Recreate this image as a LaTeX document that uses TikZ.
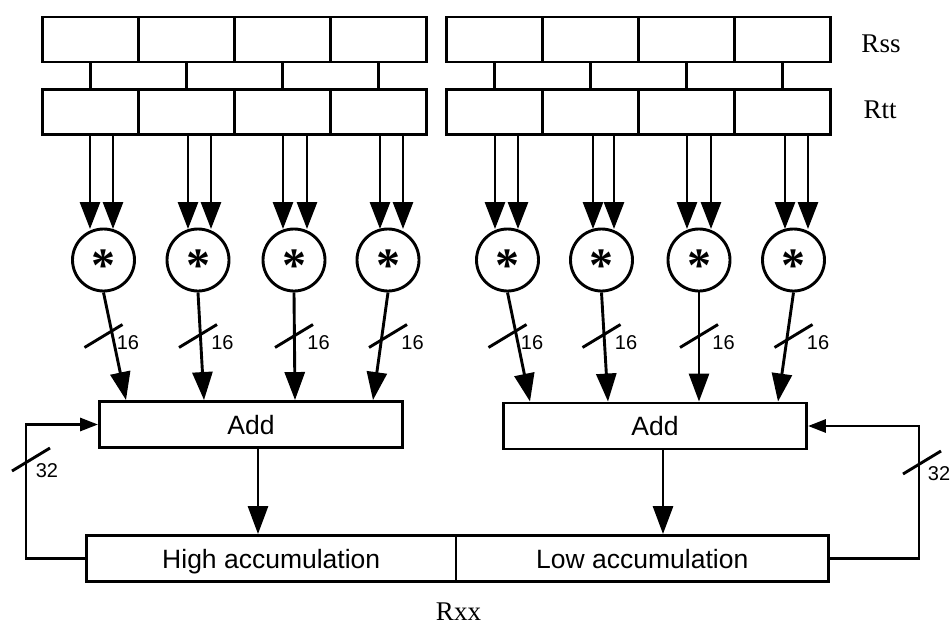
\documentclass[tikz,border=0pt]{standalone}
\usepackage{fontspec}
\setmainfont{Liberation Serif}
\newfontfamily\labelsans{Liberation Sans}
\usetikzlibrary{arrows.meta}
\begin{document}
\begin{tikzpicture}[x=1pt,y=-1pt,line width=2.9pt,
  cell/.style={draw,minimum width=96pt,minimum height=45pt,inner sep=0pt},
  mult/.style={draw,circle,minimum size=62pt,inner sep=0pt,
    font=\fontsize{48}{48}\selectfont\bfseries},
  unit/.style={draw,minimum height=46pt,inner sep=0pt,
    font=\labelsans\fontsize{26.5}{30}\selectfont,text height=19pt,text depth=0pt},
  reglabel/.style={anchor=base,inner sep=0pt,font=\fontsize{27}{30}\selectfont},
  buswidth/.style={inner sep=0pt,font=\labelsans\fontsize{20}{22}\selectfont},
  inarrow/.style={-{Triangle[length=27pt,width=20pt]}},
  outarrow/.style={-{Triangle[length=28pt,width=20pt]}},
  fbarrow/.style={-{Triangle[length=18pt,width=13pt]}},
  busmark/.style={line width=2.9pt}
]
\useasboundingbox (0,0) rectangle (951,624);

% source registers: four byte lanes each, joined lane by lane
\foreach \i in {1,...,4}{
  \node[cell] (sl\i) at ({-5.5+96*\i},39.5) {};
  \node[cell] (tl\i) at ({-5.5+96*\i},112) {};
  \node[cell] (sr\i) at ({398.5+96*\i},39.5) {};
  \node[cell] (tr\i) at ({398.5+96*\i},112) {};
  \draw (sl\i.south) -- (tl\i.north);
  \draw (sr\i.south) -- (tr\i.north);
}
\node[reglabel] (rss) at (881,52.5) {Rss};
\node[reglabel] (rtt) at (880,118) {Rtt};

% multipliers
\foreach \n/\x in {1/103.5,2/198,3/294,4/388,5/507.5,6/601.5,7/699,8/793.5}
  \node[mult] (m\n) at (\x,260) {\raisebox{-0.45em}[0pt][0pt]{*}};

% operand pairs into each multiplier
\foreach \n/\a/\b/\reg in {1/90/113/tl1,2/188/211/tl2,3/283/307/tl3,4/380/403/tl4,
                           5/495/518/tr1,6/593/614/tr2,7/687/711/tr3,8/785/808/tr4}{
  \coordinate (ia\n) at (\a,229);
  \coordinate (ib\n) at (\b,229);
  \draw[inarrow] (ia\n |- \reg.south) -- (ia\n);
  \draw[inarrow] (ib\n |- \reg.south) -- (ib\n);
}

% adders
\node[unit,minimum width=303pt] (addL) at (251,424.5) {Add};
\node[unit,minimum width=303pt] (addR) at (655,426) {Add};

% 16-bit products into the adders
\foreach \n/\x/\tgt in {1/126/addL,2/204/addL,3/295/addL,4/373/addL,
                        5/530/addR,6/608/addR,7/699/addR,8/778/addR}{
  \coordinate (oa\n) at (\x,0);
  \draw[outarrow] (m\n.south) -- (oa\n |- \tgt.north);
  \draw[busmark] ([shift={(-19,87.5)}]m\n.center) -- ++(38,-23);
  \node[buswidth] (w\n) at ([shift={(24.5,83)}]m\n.center) {16};
}

% accumulator halves
\node[unit,minimum width=369.5pt] (high) at (271.25,558.5) {High accumulation};
\node[unit,minimum width=372.5pt] (low) at (642.25,558.5) {Low accumulation};
\node[reglabel] (rxx) at (458.5,620) {Rxx};

\coordinate (dl) at (258,0);
\coordinate (dr) at (663,0);
\draw[outarrow] (dl |- addL.south) -- (dl |- high.north);
\draw[outarrow] (dr |- addR.south) -- (dr |- low.north);

% 32-bit feedback paths
\coordinate (fl) at (26,0);
\coordinate (fr) at (919,0);
\draw[fbarrow] (high.west) -| (fl |- addL.west) -- (addL.west);
\draw[fbarrow] (low.east) -| (fr |- addR.east) -- (addR.east);
\draw[busmark] (12,471) -- ++(38,-23);
\draw[busmark] (903,474) -- ++(38,-23);
\node[buswidth] (wl) at (47,471) {32};
\node[buswidth] (wr) at (939,474) {32};
\end{tikzpicture}
\end{document}
